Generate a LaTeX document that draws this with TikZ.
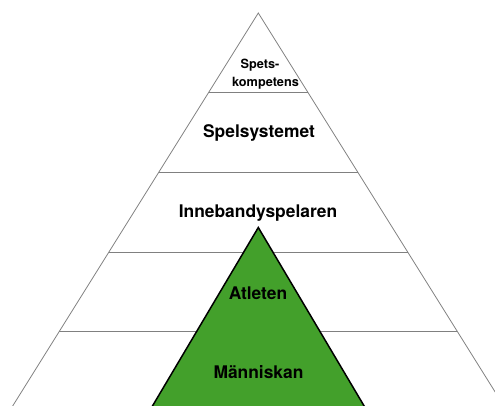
\documentclass[tikz,border=0pt]{standalone}
\usepackage{fontspec}
\setmainfont{TeX Gyre Heros}
\definecolor{pyrgreen}{HTML}{43A02B}
\definecolor{pyrgrey}{HTML}{808080}
\begin{document}
\begin{tikzpicture}[x=1pt,y=-1pt,
  tier/.style={draw=pyrgrey,line width=0.8pt},
  lbl/.style={font=\bfseries\fontsize{17.4}{20}\selectfont,inner sep=0pt,anchor=center},
  smalllbl/.style={font=\bfseries\fontsize{12.7}{15}\selectfont,inner sep=0pt,anchor=center}]
\useasboundingbox (0,0) rectangle (495,405);
\clip (0,0) rectangle (495,405);
% outer pyramid
\coordinate (apex) at (258.3,13);
\coordinate (bl) at ({258.3-0.625*402},415);
\coordinate (br) at ({258.3+0.625*402},415);
\draw[tier] (bl) -- (apex) -- (br);
\foreach \yy in {92.5,172.5,252,331.5}{
  \draw[tier] ({258.3-0.625*(\yy-13)},\yy) -- ({258.3+0.625*(\yy-13)},\yy);
}
% inner green triangle
\coordinate (gapex) at (258.3,227.5);
\coordinate (gbl) at ({258.3-0.593*192.5},420);
\coordinate (gbr) at ({258.3+0.593*192.5},420);
\draw[fill=pyrgreen,draw=black,line width=1.5pt,line join=miter] (gbl) -- (gapex) -- (gbr) -- cycle;
% labels
\node[smalllbl] (spets) at (260,65) {Spets-};
\node[smalllbl] (komp) at (265.5,83) {kompetens};
\node[lbl] (spel) at (259,133) {Spelsystemet};
\node[lbl] (inne) at (258,213) {Innebandyspelaren};
\node[lbl] (atl) at (258,293) {Atleten};
\node[lbl] (man) at (258.5,372) {Människan};
\end{tikzpicture}
\end{document}
